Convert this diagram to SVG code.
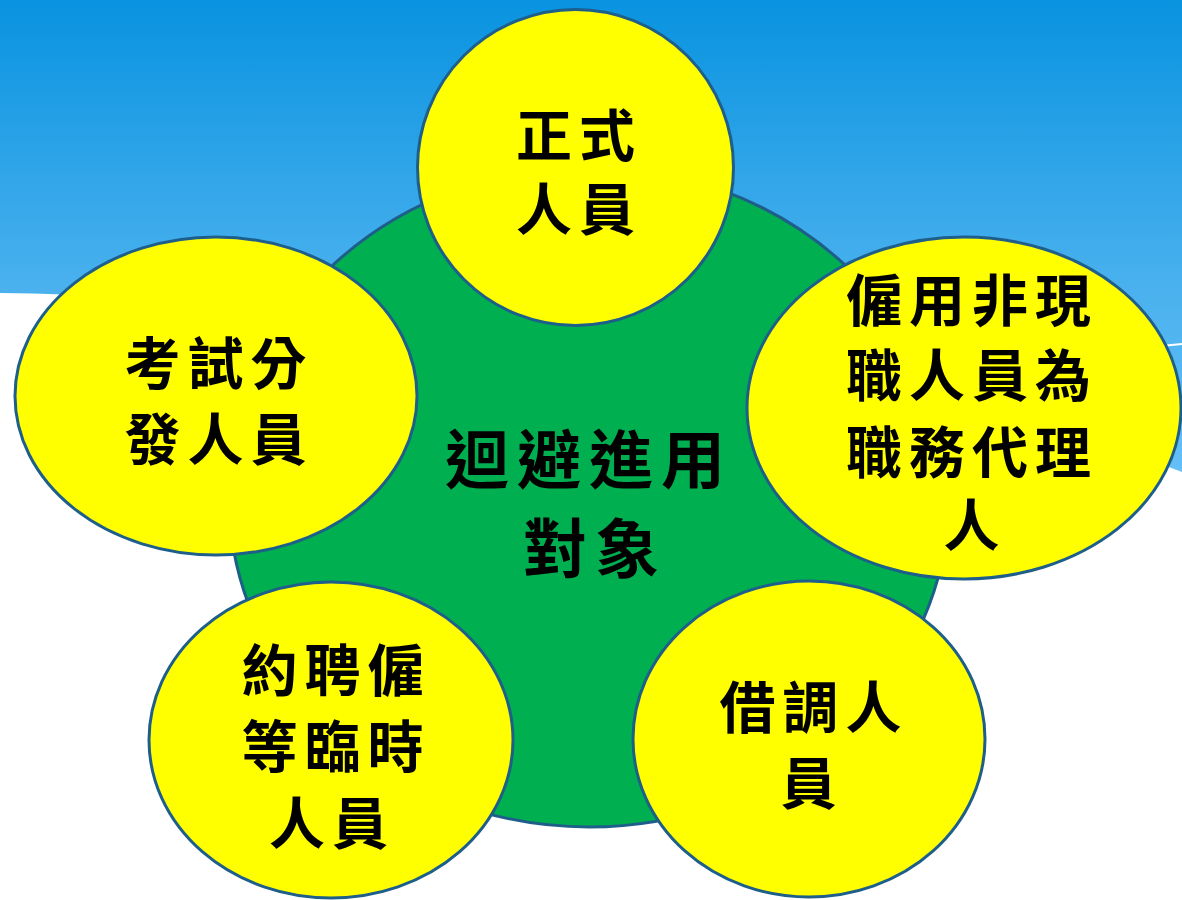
<svg xmlns="http://www.w3.org/2000/svg" width="1182" height="900" viewBox="0 0 1182 900">
<defs>
<linearGradient id="sky" x1="0" y1="0" x2="0" y2="480" gradientUnits="userSpaceOnUse">
<stop offset="0" stop-color="#0993e0"/>
<stop offset="0.6" stop-color="#4ab1ee"/>
<stop offset="1" stop-color="#66c0f6"/>
</linearGradient>
<style>
.node{fill:#ffff00;stroke:#1d5f8a;stroke-width:3}
.hub{fill:#00af50;stroke:#1d5f8a;stroke-width:3}
.t{font-family:"Noto Sans CJK TC","Noto Sans CJK SC",sans-serif;font-weight:bold;fill:#000;text-anchor:middle}
.s{font-size:56px;letter-spacing:7px}
.c{font-size:64px;letter-spacing:8px}
</style>
</defs>
<rect width="1182" height="900" fill="#ffffff"/>
<path d="M0,0 H1182 V472 C1000,400 500,300 0,293 Z" fill="url(#sky)"/>
<path d="M1140,348 L1182,344" stroke="#ffffff" stroke-width="2" fill="none"/>
<g id="connectors"></g>
<g id="hub">
<ellipse class="hub" cx="589" cy="497" rx="360" ry="330"/>
<text class="t c" x="589" y="483">迴避進用</text>
<text class="t c" x="595" y="572">對象</text>
</g>
<g id="n-top">
<circle class="node" cx="575.5" cy="167.5" r="158"/>
<text class="t s" x="579" y="156">正式</text>
<text class="t s" x="579" y="230">人員</text>
</g>
<g id="n-left">
<ellipse class="node" cx="216" cy="396" rx="201" ry="159"/>
<text class="t s" x="219" y="384">考試分</text>
<text class="t s" x="219" y="460">發人員</text>
</g>
<g id="n-right">
<ellipse class="node" cx="964" cy="408" rx="217" ry="171"/>
<text class="t s" x="972" y="321">僱用非現</text>
<text class="t s" x="972" y="396">職人員為</text>
<text class="t s" x="972" y="473">職務代理</text>
<text class="t s" x="975" y="546">人</text>
</g>
<g id="n-bottom-left">
<ellipse class="node" cx="331" cy="740" rx="182" ry="158"/>
<text class="t s" x="336" y="691">約聘僱</text>
<text class="t s" x="336" y="767">等臨時</text>
<text class="t s" x="332" y="844">人員</text>
</g>
<g id="n-bottom-right">
<ellipse class="node" cx="809" cy="739" rx="176" ry="158"/>
<text class="t s" x="814" y="728">借調人</text>
<text class="t s" x="812" y="804">員</text>
</g>
</svg>
